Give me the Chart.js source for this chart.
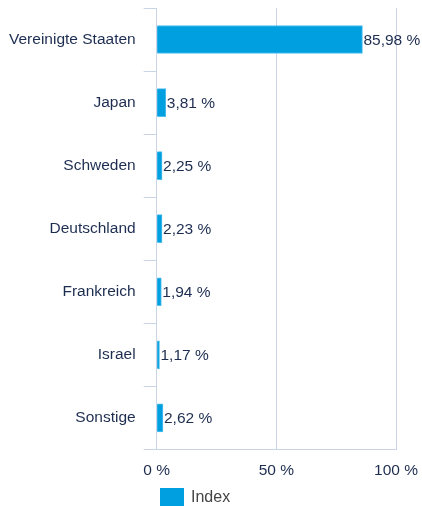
<!DOCTYPE html>
<html>
<head>
<meta charset="utf-8">
<script src="https://cdn.jsdelivr.net/npm/chart.js@4.4.0/dist/chart.umd.min.js"></script>
<style>
  html, body { margin: 0; padding: 0; background: #fff; }
  #wrap { position: relative; width: 422px; height: 506px; overflow: hidden; }
  canvas { display: block; }
  #legend {
    position: absolute; left: 160px; top: 488px;
    font: 16px "Liberation Sans", Arial, sans-serif; color: #444;
    display: flex; align-items: center; line-height: 18px;
  }
  #legend span.box { display: inline-block; width: 24px; height: 18px; background: #009fe0; margin-right: 7px; }
</style>
</head>
<body>
<div id="wrap">
  <canvas id="chart" width="422" height="506"></canvas>
  <div id="legend"><span class="box"></span><span>Index</span></div>
</div>
<script>
const categories = ["Vereinigte Staaten", "Japan", "Schweden", "Deutschland", "Frankreich", "Israel", "Sonstige"];
const indexValues = [85.98, 3.81, 2.25, 2.23, 1.94, 1.17, 2.62];
const xTicks = [0, 50, 100];

const textColor = "#1d2d50";
const gridColor = "#c9d4e6";
const fontFamily = '"Liberation Sans", Arial, sans-serif';

function fmt(v) {
  return v.toFixed(2).replace(".", ",") + " %";
}

// Value labels right after each bar
const valueLabels = {
  id: "valueLabels",
  afterDatasetsDraw(chart) {
    const ctx = chart.ctx;
    const meta = chart.getDatasetMeta(0);
    ctx.save();
    ctx.font = "15.5px " + fontFamily;
    ctx.fillStyle = textColor;
    ctx.textAlign = "left";
    ctx.textBaseline = "middle";
    meta.data.forEach((bar, i) => {
      ctx.fillText(fmt(indexValues[i]), bar.x + 1, bar.y + 1);
    });
    ctx.restore();
  },
};

new Chart(document.getElementById("chart"), {
  type: "bar",
  data: {
    labels: categories,
    datasets: [
      {
        label: "Index",
        data: indexValues,
        backgroundColor: "#009fe0",
        borderColor: "#4dbdec",
        borderWidth: 1,
        borderSkipped: "start",
        barThickness: 28,
      },
    ],
  },
  options: {
    indexAxis: "y",
    responsive: false,
    animation: false,
    layout: { padding: { top: 8, right: 26, bottom: 14, left: 1 } },
    plugins: {
      legend: { display: false },
      tooltip: { enabled: false },
    },
    scales: {
      x: {
        min: 0,
        max: 100,
        afterBuildTicks(axis) {
          axis.ticks = xTicks.map((v) => ({ value: v }));
        },
        // let the layout padding decide the right edge
        afterFit(axis) {
          axis.paddingLeft = 0;
          axis.paddingRight = 0;
        },
        grid: { color: gridColor, drawTicks: false },
        border: { display: true, color: gridColor },
        ticks: {
          padding: 12,
          color: textColor,
          font: { family: fontFamily, size: 15.5 },
          callback: (v) => v + " %",
        },
      },
      y: {
        afterFit(axis) {
          axis.paddingTop = 0;
          axis.paddingBottom = 0;
        },
        grid: { color: gridColor, drawOnChartArea: false, tickLength: 13, offset: true },
        border: { display: true, color: gridColor },
        ticks: {
          padding: 8,
          color: textColor,
          font: { family: fontFamily, size: 15.5 },
        },
      },
    },
  },
  plugins: [valueLabels],
});
</script>
</body>
</html>
